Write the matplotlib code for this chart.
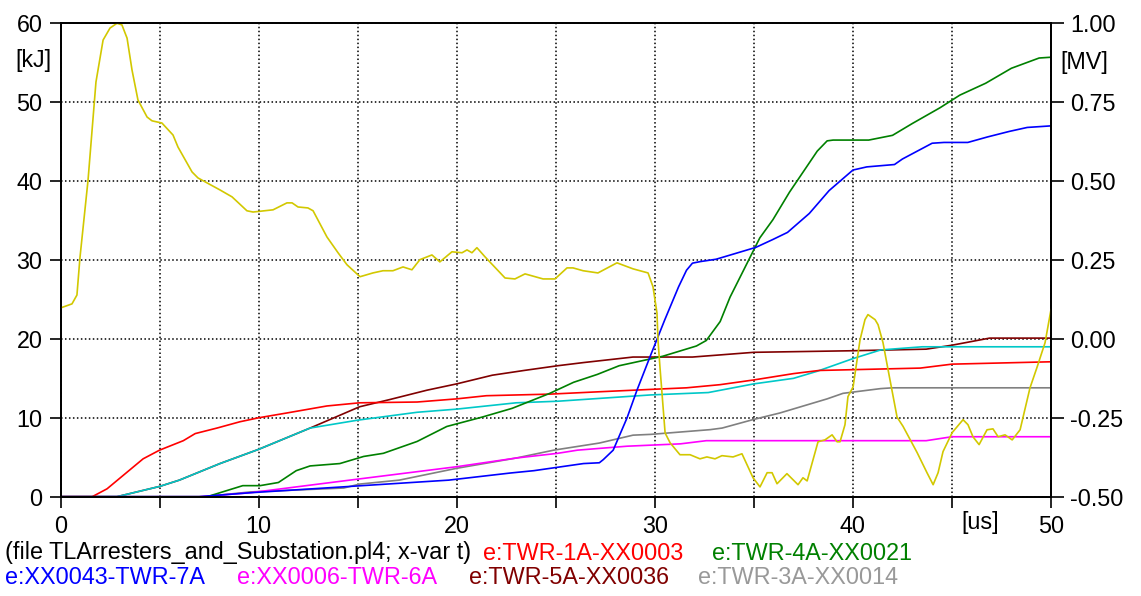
import matplotlib
matplotlib.use("Agg")
import matplotlib.pyplot as plt
from matplotlib.ticker import MultipleLocator

plt.rcParams['font.family'] = ['Liberation Sans', 'DejaVu Sans']

# time in us, energy in kJ (left axis)
red_t = [0, 1.6, 2.35, 4.17, 5.0, 6.2, 6.8, 7.9, 9.06, 10.0, 11.4, 13.45, 15.1, 18.0, 20.0, 21.5,
         24.7, 27.2, 29.8, 31.6, 33.3, 35.0, 37.0, 38.3, 43.4, 45.0, 50.0]
red_e = [0, 0, 1.0, 4.8, 5.9, 7.1, 8.0, 8.7, 9.5, 10.0, 10.6, 11.5, 11.9, 12.0, 12.4, 12.8,
         13.0, 13.3, 13.6, 13.8, 14.2, 14.8, 15.6, 16.0, 16.3, 16.8, 17.1]

cyan_t = [0, 2.85, 5.0, 6.0, 8.05, 10.0, 12.6, 15.0, 18.0, 20.0, 23.0, 25.1, 29.8, 32.7, 35.0,
          37.0, 38.2, 40.0, 41.4, 43.5, 50.0]
cyan_e = [0, 0, 1.3, 2.1, 4.2, 6.0, 8.7, 9.7, 10.7, 11.1, 11.9, 12.1, 12.9, 13.2, 14.3,
          15.0, 15.9, 17.5, 18.6, 19.0, 19.0]

dred_t = [0, 2.85, 5.0, 6.0, 8.05, 10.0, 12.6, 15.1, 16.6, 18.5, 20.0, 21.8, 23.4, 25.1, 26.4,
          28.9, 31.9, 35.0, 40.0, 43.7, 45.0, 46.9, 50.0]
dred_e = [0, 0, 1.3, 2.1, 4.2, 6.0, 8.7, 11.4, 12.3, 13.5, 14.3, 15.4, 16.0, 16.6, 17.0,
          17.7, 17.7, 18.3, 18.5, 18.7, 19.2, 20.1, 20.1]

green_t = [0, 7.4, 9.2, 10.07, 11.0, 11.9, 12.6, 14.1, 15.3, 16.3, 18.0, 19.5, 21.3, 22.8, 24.7,
           25.9, 27.1, 28.2, 30.4, 32.1, 32.6, 33.3, 33.8, 34.8, 35.3, 35.96, 36.8, 38.2, 38.7,
           39.0, 40.8, 42.0, 43.0, 44.4, 45.4, 46.7, 48.0, 49.4, 50.0]
green_e = [0, 0, 1.4, 1.4, 1.8, 3.3, 3.9, 4.2, 5.1, 5.5, 7.0, 8.9, 10.1, 11.2, 13.1,
           14.5, 15.5, 16.6, 17.8, 19.1, 19.8, 22.2, 25.3, 30.3, 32.8, 35.1, 38.6, 43.8, 45.1,
           45.2, 45.2, 45.8, 47.3, 49.3, 50.9, 52.4, 54.3, 55.6, 55.7]

blue_t = [0, 7.0, 9.57, 14.6, 19.6, 22.7, 23.9, 26.4, 27.2, 27.4, 27.9, 28.6, 29.1, 29.8, 30.5,
          31.2, 31.6, 31.9, 32.3, 33.1, 34.3, 35.1, 35.96, 36.7, 37.8, 38.8, 40.0, 40.7, 42.1,
          42.5, 44.0, 44.6, 45.8, 46.8, 47.9, 48.8, 50.0]
blue_e = [0, 0, 0.5, 1.3, 2.1, 3.0, 3.3, 4.2, 4.3, 4.7, 5.9, 10.0, 13.5, 18.0, 22.4,
          26.6, 28.7, 29.6, 29.8, 30.1, 31.0, 31.6, 32.6, 33.5, 35.9, 38.8, 41.4, 41.8, 42.1,
          42.8, 44.8, 44.9, 44.9, 45.6, 46.3, 46.8, 47.0]

mag_t = [0, 7.0, 9.57, 14.6, 20.0, 23.0, 25.1, 26.1, 28.6, 31.3, 32.6, 43.7, 45.0, 50.0]
mag_e = [0, 0, 0.5, 2.1, 3.8, 4.9, 5.5, 5.9, 6.4, 6.7, 7.1, 7.1, 7.6, 7.6]

gray_t = [0, 7.2, 9.57, 14.3, 15.1, 17.1, 20.0, 23.0, 24.9, 27.2, 28.9, 29.8, 32.8, 33.4, 35.0,
          36.3, 38.7, 39.5, 41.4, 42.0, 50.0]
gray_e = [0, 0, 0.6, 1.1, 1.6, 2.1, 3.6, 4.9, 5.9, 6.8, 7.8, 7.9, 8.5, 8.7, 9.8,
          10.6, 12.4, 13.1, 13.7, 13.8, 13.8]

# voltage in MV (right axis)
yel_t = [0, 0.58, 0.83, 0.98, 1.39, 1.79, 2.15, 2.5, 2.85, 3.1, 3.36, 3.61, 3.91, 4.37, 4.62,
         5.12, 5.68, 5.93, 6.64, 6.94, 8.05, 8.66, 9.41, 9.72, 10.73, 11.43, 11.69, 11.99, 12.49,
         12.75, 13.45, 14.01, 14.46, 15.12, 15.77, 16.28, 16.78, 17.29, 17.74, 18.14, 18.75,
         19.15, 19.76, 20.27, 20.52, 20.77, 21.02, 21.43, 22.44, 22.94, 23.45, 24.36, 24.96,
         25.57, 25.87, 26.38, 27.13, 28.09, 28.9, 29.66, 29.91, 30.11, 30.16, 30.26, 30.52,
         30.77, 31.27, 31.78, 32.28, 32.63, 33.04, 33.39, 33.95, 34.4, 34.96, 35.31, 35.67,
         35.92, 36.17, 36.67, 37.23, 37.48, 37.69, 38.24, 38.59, 38.95, 39.2, 39.35, 39.6,
         39.75, 40.01, 40.36, 40.61, 40.76, 41.12, 41.27, 41.52, 41.77, 42.23, 42.53, 43.24,
         43.74, 44.05, 44.3, 44.55, 45.01, 45.56, 45.81, 46.06, 46.37, 46.77, 47.07, 47.33,
         47.68, 48.04, 48.44, 48.94, 49.3, 49.7, 50.0]
yel_v = [0.098, 0.111, 0.139, 0.256, 0.503, 0.814, 0.947, 0.985, 1.0, 0.995, 0.953, 0.852,
         0.757, 0.703, 0.691, 0.684, 0.646, 0.608, 0.529, 0.51, 0.472, 0.45, 0.406, 0.402,
         0.409, 0.431, 0.431, 0.418, 0.415, 0.406, 0.323, 0.273, 0.235, 0.197, 0.209, 0.216,
         0.216, 0.228, 0.219, 0.251, 0.266, 0.244, 0.276, 0.273, 0.282, 0.273, 0.289, 0.26,
         0.193, 0.19, 0.206, 0.19, 0.19, 0.225, 0.225, 0.216, 0.209, 0.241, 0.222, 0.209,
         0.165, 0.082, -0.003, -0.089, -0.298, -0.329, -0.367, -0.367, -0.38, -0.374, -0.38,
         -0.37, -0.374, -0.364, -0.44, -0.469, -0.424, -0.424, -0.459, -0.427, -0.462, -0.44,
         -0.45, -0.326, -0.32, -0.304, -0.326, -0.326, -0.272, -0.183, -0.152, -0.003, 0.061,
         0.077, 0.061, 0.045, -0.012, -0.096, -0.248, -0.277, -0.36, -0.424, -0.462, -0.424,
         -0.357, -0.297, -0.256, -0.272, -0.31, -0.335, -0.288, -0.285, -0.31, -0.304, -0.32,
         -0.288, -0.155, -0.089, -0.012, 0.093]

legend_rows = [
    [("(file TLArresters_and_Substation.pl4; x-var t)", "black"),
     ("e:TWR-1A-XX0003", "#ff0000"),
     ("e:TWR-4A-XX0021", "#008000")],
    [("e:XX0043-TWR-7A", "#0000ff"),
     ("e:XX0006-TWR-6A", "#ff00ff"),
     ("e:TWR-5A-XX0036", "#800000"),
     ("e:TWR-3A-XX0014", "#999999")],
]
legend_x = [[5, 483, 712], [5, 237, 469, 698]]

W, H = 1141, 596
fs = 16.8

fig = plt.figure(figsize=(W / 100, H / 100), dpi=100)
ax = fig.add_axes([60.5 / W, 1 - 496.7 / H, (1051 - 60.5) / W, (496.7 - 23.3) / H])
ax2 = ax.twinx()

lw = 1.2
ax.plot(dred_t, dred_e, color="#800000", lw=lw)
ax.plot(cyan_t, cyan_e, color="#00c8c8", lw=lw)
ax.plot(gray_t, gray_e, color="#808080", lw=lw)
ax.plot(mag_t, mag_e, color="#ff00ff", lw=lw)
ax.plot(red_t, red_e, color="#ff0000", lw=lw)
ax.plot(green_t, green_e, color="#008000", lw=lw)
ax.plot(blue_t, blue_e, color="#0000ff", lw=lw)
ax2.plot(yel_t, yel_v, color="#d2c800", lw=lw)

ax.set_xlim(0, 50)
ax.set_ylim(0, 60)
ax2.set_ylim(-0.5, 1.0)

ax.xaxis.set_major_locator(MultipleLocator(5))
ax.set_xticklabels([str(int(v)) if v % 10 == 0 else "" for v in ax.get_xticks()])
ax.yaxis.set_major_locator(MultipleLocator(10))
ax2.yaxis.set_major_locator(MultipleLocator(0.25))
ax2.set_yticklabels(["%.2f" % v for v in ax2.get_yticks()])

ax.grid(True, color="black", linestyle=(0, (1, 1.6)), linewidth=1.1)
ax.tick_params(direction="out", length=8, width=1.2, labelsize=fs, pad=5)
ax2.tick_params(direction="out", length=9, width=1.2, labelsize=fs, pad=5)
for a in (ax, ax2):
    for s in a.spines.values():
        s.set_linewidth(1.3)

fig.text(33 / W, 1 - 61 / H, "[kJ]", fontsize=fs, ha="center", va="center")
fig.text(1084 / W, 1 - 62 / H, "[MV]", fontsize=fs, ha="center", va="center")
fig.text(980 / W, 1 - 522 / H, "[us]", fontsize=fs, ha="center", va="center")

row_y = [553, 578]
for row, xs, yy in zip(legend_rows, legend_x, row_y):
    for (txt, col), xx in zip(row, xs):
        fig.text(xx / W, 1 - yy / H, txt, fontsize=fs, color=col, ha="left", va="center")

fig.savefig("out.png", dpi=100)
